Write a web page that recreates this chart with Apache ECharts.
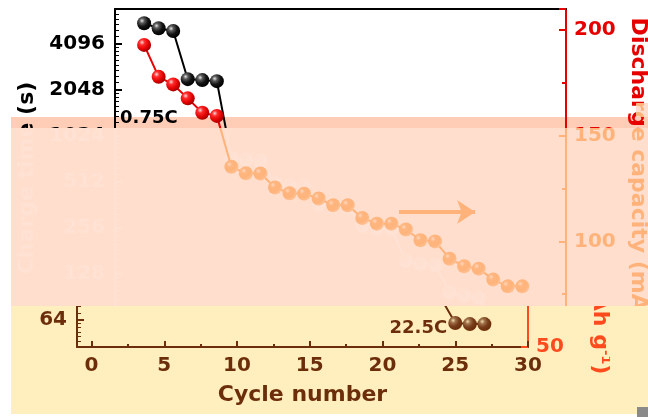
<!DOCTYPE html>
<html>
<head>
<meta charset="utf-8">
<script src="https://cdn.jsdelivr.net/npm/echarts@6/dist/echarts.min.js"></script>
<style>
html,body{margin:0;padding:0;background:#fff;}
#stage{position:relative;width:648px;height:417px;overflow:hidden;background:#fff;}
.win{position:absolute;overflow:hidden;background:#fff;}
.chart{position:absolute;width:648px;height:417px;}
</style>
</head>
<body>
<svg width="0" height="0" style="position:absolute">
  <defs>
    <filter id="fBand" color-interpolation-filters="sRGB">
      <feColorMatrix type="matrix" values="1 0 0 0 0  0 0.80 0 0 0  0 0 0.71 0 0  0 0 0 1 0"/>
    </filter>
    <filter id="fPeach" color-interpolation-filters="sRGB">
      <feColorMatrix type="matrix" values="0 0 0 0 1  -0.2066 0.0958 0.0958 0 0.886  -0.3956 0.1843 0.1843 0 0.831  0 0 0 1 0"/>
    </filter>
    <filter id="fYellow" color-interpolation-filters="sRGB">
      <feColorMatrix type="matrix" values="0.637 -0.0285 -0.0285 0 0.42  0.13 0.3155 0.3155 0 0.176  0.087 0.3115 0.3115 0 0.039  0 0 0 1 0"/>
    </filter>
  </defs>
</svg>
<div id="stage">
  <div id="c0" class="chart" style="left:0;top:0"></div>
  <div class="win" style="left:11px;top:117px;width:637px;height:11px;filter:url(#fBand)">
    <div id="c1" class="chart" style="left:-11px;top:-117px"></div>
  </div>
  <div class="win" style="left:636px;top:103px;width:12px;height:14px;filter:url(#fPeach)">
    <div id="c2" class="chart" style="left:-636px;top:-103px"></div>
  </div>
  <div class="win" style="left:11px;top:128px;width:637px;height:178px;filter:url(#fPeach)">
    <div id="c3" class="chart" style="left:-11px;top:-128px"></div>
  </div>
  <div class="win" style="left:11px;top:306px;width:637px;height:108px;filter:url(#fYellow)">
    <div id="c4" class="chart" style="left:-49px;top:-306px"></div>
  </div>
  <div style="position:absolute;left:0;top:414px;width:648px;height:3px;background:#fff"></div>
  <div style="position:absolute;left:637px;top:407px;width:11px;height:10px;background:#8a8a8a"></div>
</div>
<script>
// ---- data ----
var cycles = [1,2,3,4,5,6,7,8,9,10,11,12,13,14,15,16,17,18,19,20,21,22,23,24,25,26,27];
var timeSeconds = [5540,5140,4930,2390,2356,2320,730,712,700,500,482,476,362,352,350,262,252,250,155,148,146,97,92,89,61,60,60];
var dischargeCapacity = [193.0,177.9,174.3,167.7,160.9,159.4,135.3,132.2,132.1,125.5,122.8,122.6,120.3,117.1,117.1,111.1,108.4,108.4,105.6,100.5,100.0,91.8,88.2,87.1,81.9,78.7,78.7];
var xTickValues = [0,5,10,15,20,25,30];
var xMinorTickValues = [2.5,7.5,12.5,17.5,22.5,27.5];
var leftTickLabels = [64,128,256,512,1024,2048,4096];
var rightTickLabels = [50,100,150,200];
var rateLabels = ['0.75C','22.5C'];
var rateLabelAnchors = [[1.33,1327],[22.46,55.9]];
var arrowFrom = [18.52,113.9];
var arrowTo = [23.75,113.9];

var FONT = 'DejaVu Sans';
var RED = '#e60000';

function pairs(xs, ys){ return xs.map(function(x,i){ return [x, ys[i]]; }); }

var blackBall = {type:'radial', x:0.35, y:0.32, r:0.7, colorStops:[
  {offset:0,color:'#e6e6e6'},{offset:0.25,color:'#5a5a5a'},{offset:0.6,color:'#141414'},{offset:1,color:'#000'}]};
var redBall = {type:'radial', x:0.35, y:0.32, r:0.7, colorStops:[
  {offset:0,color:'#ffd8d8'},{offset:0.28,color:'#ff2a2a'},{offset:0.7,color:'#e00000'},{offset:1,color:'#a00000'}]};

function buildOption(){
  var labelStyle = {fontFamily:FONT, fontWeight:'bold', fontSize:20};
  return {
    animation:false,
    backgroundColor:'#fff',
    grid:{left:115, right:82, top:9, bottom:70, containLabel:false, outerBoundsMode:'none'},
    xAxis:[
      {type:'value', position:'bottom', min:-1, max:30,
       axisLine:{show:true, onZero:false, lineStyle:{color:'#000', width:2}},
       axisTick:{show:true, inside:true, length:6, lineStyle:{color:'#000', width:2}, customValues:xTickValues},
       axisLabel:Object.assign({color:'#000', margin:9, customValues:xTickValues}, labelStyle),
       splitLine:{show:false},
       name:'Cycle number', nameLocation:'middle', nameGap:37,
       nameTextStyle:{fontFamily:FONT, fontWeight:'bold', fontSize:22, color:'#000'}},
      {type:'value', position:'bottom', min:-1, max:30,
       axisLine:{show:false},
       axisTick:{show:true, inside:true, length:3, lineStyle:{color:'#000', width:2}, customValues:xMinorTickValues},
       axisLabel:{show:false}, splitLine:{show:false}},
      {type:'value', position:'top', min:-1, max:30,
       axisLine:{show:true, onZero:false, lineStyle:{color:'#000', width:2}},
       axisTick:{show:false}, axisLabel:{show:false}, splitLine:{show:false}}
    ],
    yAxis:[
      {type:'log', logBase:2, position:'left', min:42.5, max:6869,
       axisLine:{show:true, onZero:false, lineStyle:{color:'#000', width:2}},
       axisTick:{show:true, inside:true, length:7, lineStyle:{color:'#000', width:2}},
       minorTick:{show:true, splitNumber:9, length:4, lineStyle:{color:'#000', width:1}},
       axisLabel:Object.assign({color:'#000', margin:10, showMinLabel:false, showMaxLabel:false,
         formatter:function(v){ var r = Math.round(v); return leftTickLabels.indexOf(r) >= 0 ? String(r) : ''; }}, labelStyle),
       splitLine:{show:false},
       name:'Charge time (s)', nameLocation:'middle', nameGap:76, nameRotate:90,
       nameTextStyle:{fontFamily:FONT, fontWeight:'bold', fontSize:22, color:'#000'}},
      {type:'value', position:'right', min:50, max:210, interval:50,
       axisLine:{show:true, onZero:false, lineStyle:{color:RED, width:2}},
       axisTick:{show:true, inside:true, length:7, lineStyle:{color:RED, width:2}},
       minorTick:{show:true, splitNumber:2, length:4, lineStyle:{color:RED, width:2}},
       axisLabel:Object.assign({color:RED, margin:8, showMaxLabel:false,
         formatter:function(v){ return rightTickLabels.indexOf(v) >= 0 ? String(v) : ''; }}, labelStyle),
       splitLine:{show:false},
       name:'Discharge capacity (mAh g{sup|-1})', nameLocation:'middle', nameGap:53, nameRotate:-90,
       nameTextStyle:{fontFamily:FONT, fontWeight:'bold', fontSize:22, color:RED, padding:[0,0,0,36],
         rich:{sup:{fontFamily:FONT, fontWeight:'bold', fontSize:13, color:RED, verticalAlign:'top', padding:[0,0,12,0]}}}}
    ],
    series:[
      {type:'line', name:'Charge time', xAxisIndex:0, yAxisIndex:0, z:3,
       data:pairs(cycles, timeSeconds),
       symbol:'circle', symbolSize:14,
       lineStyle:{color:'#000', width:2},
       itemStyle:{color:blackBall, borderWidth:0},
       markPoint:{silent:true, symbol:'circle', symbolSize:0,
         label:{show:true, position:'inside', color:'#000', fontFamily:FONT, fontWeight:'bold', fontSize:18, formatter:function(p){ return p.name; }},
         data:rateLabels.map(function(t,i){ return {name:t, coord:rateLabelAnchors[i]}; })}},
      {type:'line', name:'Discharge capacity', xAxisIndex:0, yAxisIndex:1, z:4,
       data:pairs(cycles, dischargeCapacity),
       symbol:'circle', symbolSize:14,
       lineStyle:{color:RED, width:2},
       itemStyle:{color:redBall, borderWidth:0},
       markLine:{silent:true, symbol:['none','arrow'], symbolSize:18,
         lineStyle:{color:RED, width:4, type:'solid'}, label:{show:false},
         data:[[{coord:arrowFrom},{coord:arrowTo}]]}}
    ]
  };
}

['c0','c1','c2','c3','c4'].forEach(function(id){
  var ch = echarts.init(document.getElementById(id), null, {renderer:'canvas'});
  ch.setOption(buildOption());
});
</script>
</body>
</html>
